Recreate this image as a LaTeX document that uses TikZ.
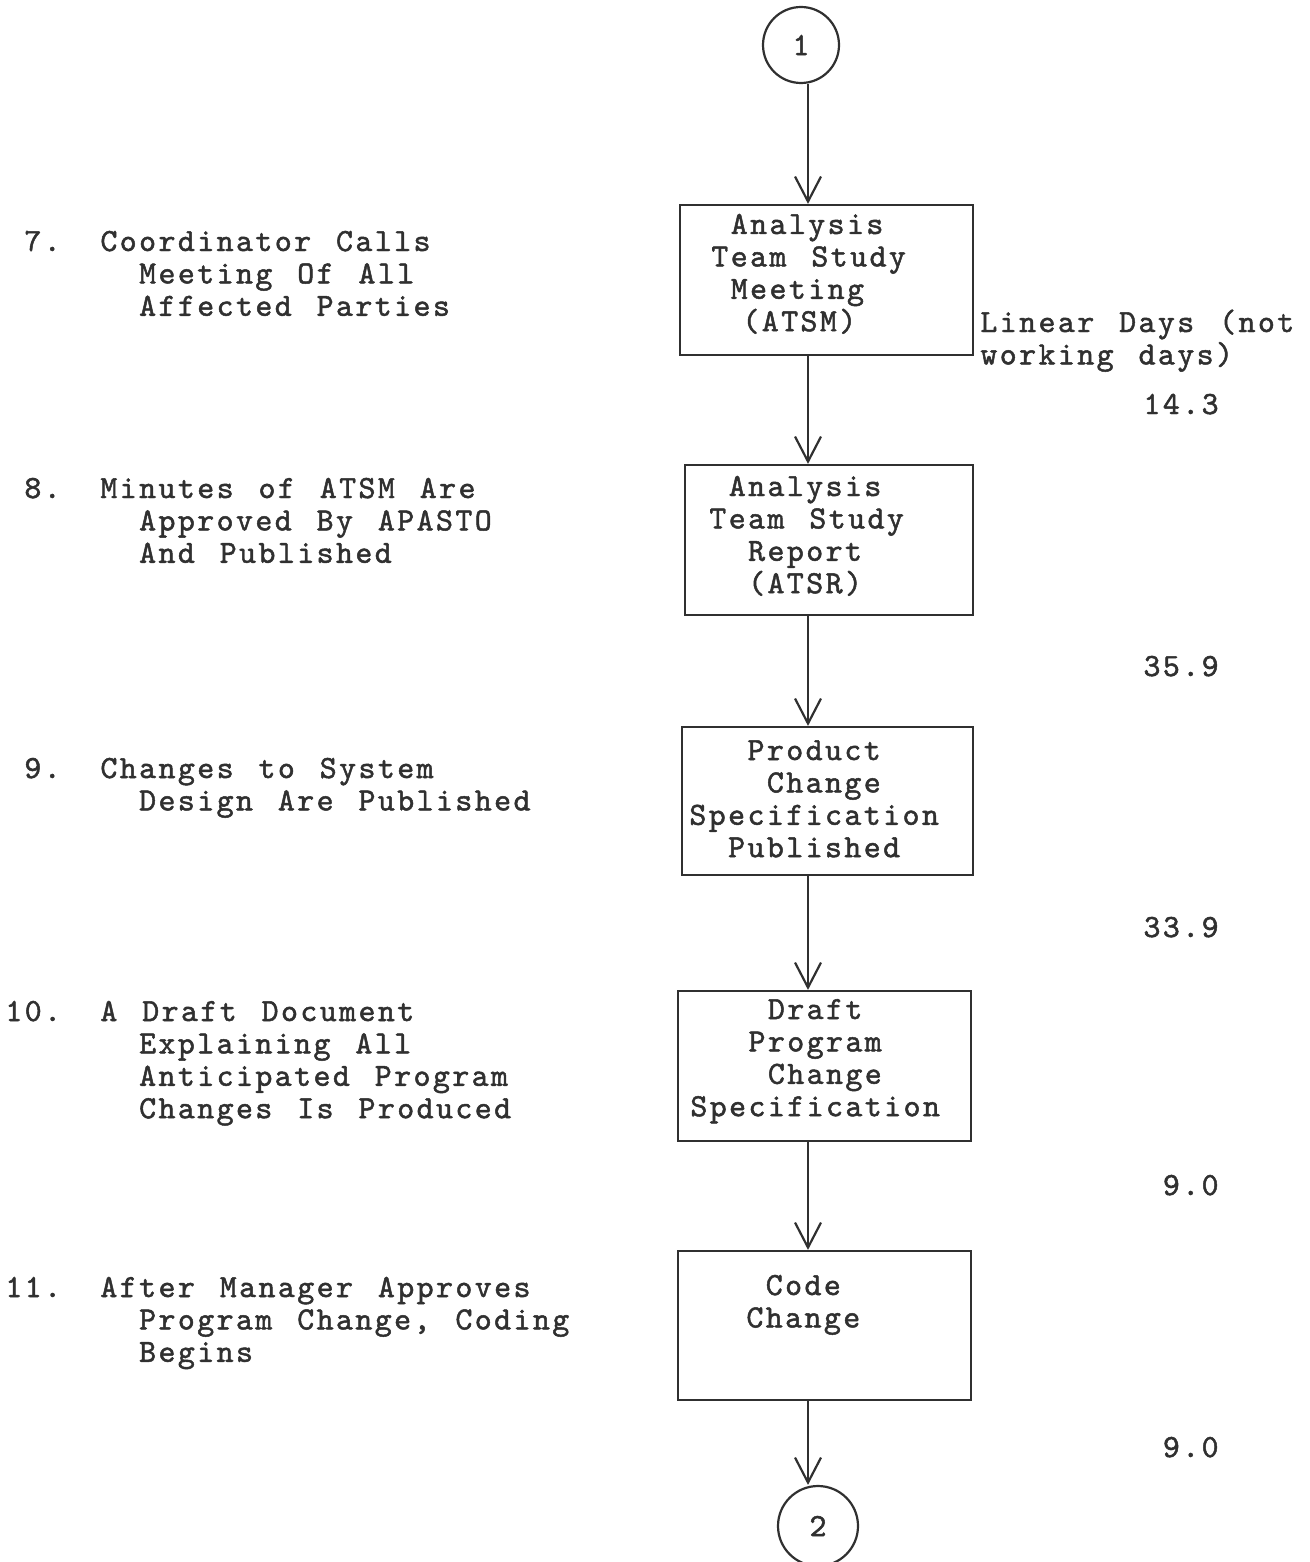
\documentclass[tikz,border=0pt]{standalone}
\usepackage{fontspec}
\newfontfamily\tw{lmmono10-regular.otf}[LetterSpace=7.5,FakeBold=1.5,WordSpace=1.285]
\usetikzlibrary{arrows.meta}
\newlength\chw
\setlength\chw{9.69pt}
\newcommand\Lx[2][0]{\hbox{\hspace*{#1\chw}#2}}
\newcommand\Blk[1]{\vtop{\baselineskip=16.2pt\lineskiplimit=-20pt\relax #1}}
\definecolor{ink}{HTML}{303030}
\begin{document}
\begin{tikzpicture}[x=0.5pt,y=-0.5pt,
  font=\tw\fontsize{16.15pt}{16.2pt}\selectfont,
  every node/.style={text=ink},
  txt/.style={anchor=base west,inner sep=0pt},
  num/.style={anchor=base east,inner sep=0pt},
  stepbox/.style={draw=ink,line width=1.1pt,inner sep=0pt},
  conn/.style={draw=ink,line width=1.1pt,circle,inner sep=0pt},
  arr/.style={draw=ink,line width=1.1pt,-{Straight Barb[length=12.5pt,width=13pt,line width=1.1pt]}}]
\useasboundingbox (0,0) rectangle (1310,1562);
\fill[white] (0,0) rectangle (1310,1562);

% spine of the flow
\coordinate (spine) at (808,0);

% connectors (circles)
\node[conn,minimum size=38pt] (c1) at (801,45) {1};
\node[conn,minimum size=40pt] (c2) at (818,1526) {2};

% boxes
\node[stepbox,minimum width=146.5pt,minimum height=75pt] (b1) at (826.5,280) {};
\node[stepbox,minimum width=144pt,minimum height=75pt] (b2) at (829,540) {};
\node[stepbox,minimum width=145.5pt,minimum height=74pt] (b3) at (827.5,801) {};
\node[stepbox,minimum width=146.5pt,minimum height=75pt] (b4) at (824.5,1066) {};
\node[stepbox,minimum width=146.5pt,minimum height=74.5pt] (b5) at (824.5,1325.5) {};

% box texts
\node[txt] (t1) at (711,234) {\Blk{\Lx[1]{Analysis}\Lx{Team Study}\Lx[1]{Meeting}\Lx[1.6]{(ATSM)}}};
\node[txt] (t2) at (709,496) {\Blk{\Lx[1]{Analysis}\Lx{Team Study}\Lx[2]{Report}\Lx[2]{(ATSR)}}};
\node[txt] (t3) at (689,760) {\Blk{\Lx[3]{Product}\Lx[4]{Change}\Lx{Specification}\Lx[2]{Published}}};
\node[txt] (t4) at (690,1019) {\Blk{\Lx[4]{Draft}\Lx[3]{Program}\Lx[4]{Change}\Lx{Specification}}};
\node[txt] (t5) at (746,1295) {\Blk{\Lx[1]{Code}\Lx{Change}}};

% arrows
\draw[arr] (c1.south -| spine) -- (b1.north -| spine);
\draw[arr] (b1.south -| spine) -- (b2.north -| spine);
\draw[arr] (b2.south -| spine) -- (b3.north -| spine);
\draw[arr] (b3.south -| spine) -- (b4.north -| spine);
\draw[arr] (b4.south -| spine) -- (b5.north -| spine);
\draw[arr] (b5.south -| spine) -- (c2.north -| spine);

% left descriptions
\node[txt] (n7) at (24,251) {7.};
\node[txt] (l7) at (100,251) {\Blk{\Lx{Coordinator Calls}\Lx[2]{Meeting Of All}\Lx[2]{Affected Parties}}};
\node[txt] (n8) at (24,498) {8.};
\node[txt] (l8) at (100,498) {\Blk{\Lx{Minutes of ATSM Are}\Lx[2]{Approved By APASTO}\Lx[2]{And Published}}};
\node[txt] (n9) at (24,778) {9.};
\node[txt] (l9) at (100,778) {\Blk{\Lx{Changes to System}\Lx[2]{Design Are Published}}};
\node[txt] (n10) at (5,1021) {10.};
\node[txt] (l10) at (100,1021) {\Blk{\Lx{A Draft Document}\Lx[2]{Explaining All}\Lx[2]{Anticipated Program}\Lx[2]{Changes Is Produced}}};
\node[txt] (n11) at (5,1297) {11.};
\node[txt] (l11) at (100,1297) {\Blk{\Lx{After Manager Approves}\Lx[2]{Program Change, Coding}\Lx[2]{Begins}}};

% right column: linear days
\node[txt] (ld) at (980,332) {\Blk{\Lx{Linear Days (not}\Lx{working days)}}};
\node[num] (d1) at (1219,414) {14.3};
\node[num] (d2) at (1219,676) {35.9};
\node[num] (d3) at (1219,937) {33.9};
\node[num] (d4) at (1219,1195) {9.0};
\node[num] (d5) at (1219,1457) {9.0};
\end{tikzpicture}
\end{document}
